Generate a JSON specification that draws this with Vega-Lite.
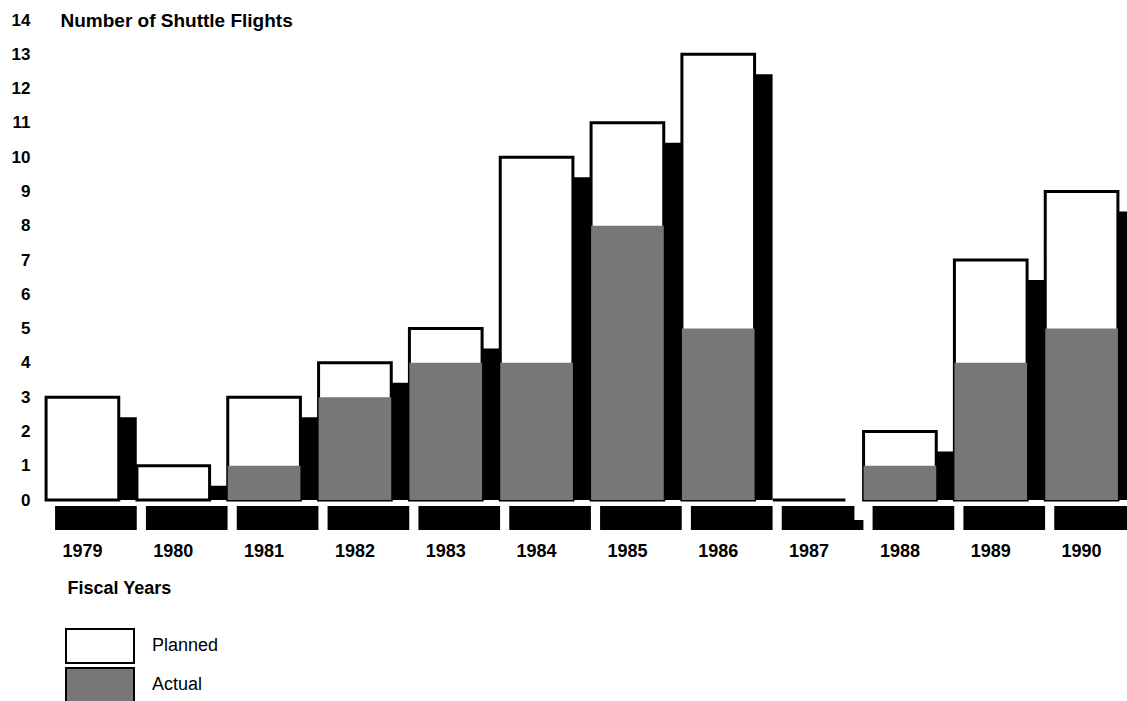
{
  "$schema": "https://vega.github.io/schema/vega-lite/v6.json",
  "autosize": "none",
  "width": 1090,
  "height": 480,
  "padding": {"left": 37, "top": 20, "right": 0, "bottom": 201},
  "background": "white",
  "config": {"view": {"stroke": null}, "font": "Liberation Sans"},
  "data": {
    "values": [
      {"year": "1979", "series": "Planned", "flights": 3},
      {"year": "1980", "series": "Planned", "flights": 1},
      {"year": "1981", "series": "Planned", "flights": 3},
      {"year": "1982", "series": "Planned", "flights": 4},
      {"year": "1983", "series": "Planned", "flights": 5},
      {"year": "1984", "series": "Planned", "flights": 10},
      {"year": "1985", "series": "Planned", "flights": 11},
      {"year": "1986", "series": "Planned", "flights": 13},
      {"year": "1987", "series": "Planned", "flights": 0},
      {"year": "1988", "series": "Planned", "flights": 2},
      {"year": "1989", "series": "Planned", "flights": 7},
      {"year": "1990", "series": "Planned", "flights": 9},
      {"year": "1979", "series": "Actual", "flights": 0},
      {"year": "1980", "series": "Actual", "flights": 0},
      {"year": "1981", "series": "Actual", "flights": 1},
      {"year": "1982", "series": "Actual", "flights": 3},
      {"year": "1983", "series": "Actual", "flights": 4},
      {"year": "1984", "series": "Actual", "flights": 4},
      {"year": "1985", "series": "Actual", "flights": 8},
      {"year": "1986", "series": "Actual", "flights": 5},
      {"year": "1987", "series": "Actual", "flights": 0},
      {"year": "1988", "series": "Actual", "flights": 1},
      {"year": "1989", "series": "Actual", "flights": 4},
      {"year": "1990", "series": "Actual", "flights": 5}
    ]
  },
  "encoding": {
    "x": {
      "field": "year",
      "type": "nominal",
      "sort": null,
      "scale": {"paddingInner": 0.2, "paddingOuter": 0.1},
      "axis": {
        "title": "Fiscal Years",
        "labelAngle": 0,
        "labelFont": "Liberation Sans",
        "labelFontSize": 18,
        "labelFontWeight": "bold",
        "labelColor": "black",
        "labelPadding": 42,
        "domain": false,
        "ticks": false,
        "grid": false,
        "titleFont": "Liberation Sans",
        "titleFontSize": 18,
        "titleFontWeight": "bold",
        "titleColor": "black",
        "titleAnchor": "start",
        "titleAlign": "left",
        "titleBaseline": "middle",
        "titleX": 30,
        "titleY": 88
      }
    },
    "y": {
      "field": "flights",
      "type": "quantitative",
      "scale": {"domain": [0, 14], "nice": false, "zero": true},
      "axis": {
        "values": [0, 1, 2, 3, 4, 5, 6, 7, 8, 9, 10, 11, 12, 13, 14],
        "format": "d",
        "title": "Number of Shuttle Flights",
        "titleAngle": 0,
        "titleAlign": "left",
        "titleBaseline": "middle",
        "titleX": 23,
        "titleY": 0,
        "titleFont": "Liberation Sans",
        "titleFontSize": 19,
        "titleFontWeight": "bold",
        "titleColor": "black",
        "labelFont": "Liberation Sans",
        "labelFontSize": 17,
        "labelFontWeight": "bold",
        "labelColor": "black",
        "labelPadding": 7,
        "domain": false,
        "ticks": false,
        "grid": false
      }
    }
  },
  "layer": [
    {
      "transform": [{"filter": "datum.series === 'Planned'"}],
      "mark": {"type": "bar", "color": "black", "xOffset": 18, "yOffset": 20, "y2Offset": 0},
      "encoding": {
        "y2": {"datum": -0.875}
      }
    },
    {
      "transform": [{"filter": "datum.series === 'Planned'"}],
      "mark": {"type": "bar", "color": "black", "xOffset": 9},
      "encoding": {
        "y": {"datum": 0, "type": "quantitative"},
        "y2": {"datum": -0.875}
      }
    },
    {
      "mark": {"type": "rule", "color": "white", "strokeWidth": 6, "yOffset": 3},
      "encoding": {
        "x": null,
        "y": {"datum": 0}
      }
    },
    {
      "transform": [{"filter": "datum.series === 'Planned'"}],
      "mark": {"type": "bar", "stroke": "black", "strokeWidth": 3},
      "encoding": {
        "fill": {
          "field": "series",
          "type": "nominal",
          "scale": {"domain": ["Planned", "Actual"], "range": ["white", "#777777"]},
          "legend": {
            "title": null,
            "orient": "none",
            "legendX": 45,
            "legendY": 608,
            "padding": 0,
            "symbolType": "M-2,-1H2V1H-2Z",
            "symbolSize": 1156,
            "symbolStrokeColor": "black",
            "symbolStrokeWidth": 2,
            "symbolOpacity": 1,
            "labelFont": "Liberation Sans",
            "labelFontSize": 18,
            "labelColor": "black",
            "labelOffset": 34,
            "rowPadding": -4
          }
        }
      }
    },
    {
      "transform": [{"filter": "datum.series === 'Actual'"}],
      "mark": {"type": "bar", "strokeWidth": 0},
      "encoding": {
        "fill": {"field": "series", "type": "nominal"}
      }
    }
  ]
}
